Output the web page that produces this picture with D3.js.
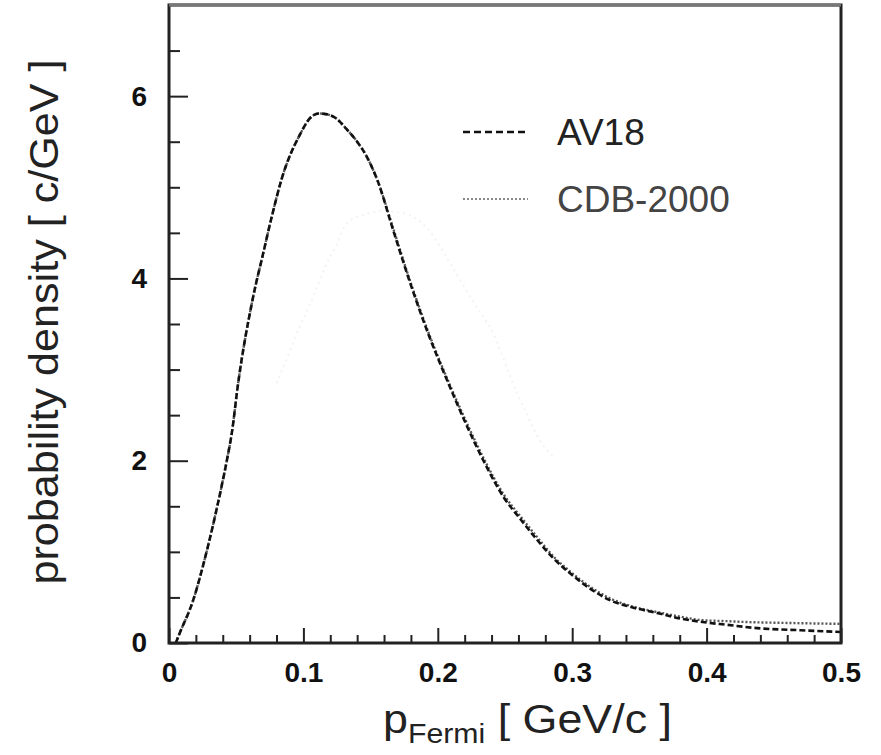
<!DOCTYPE html>
<html>
<head>
<meta charset="utf-8">
<script src="https://cdn.jsdelivr.net/npm/d3@7"></script>
<style>
  html, body { margin: 0; padding: 0; background: #fff; }
  svg { display: block; font-family: "Liberation Sans", Arial, Helvetica, sans-serif; }
</style>
</head>
<body>
<svg id="chart" width="881" height="755"></svg>
<script>
// Fermi momentum distributions (p in GeV/c, density in c/GeV)
const av18P = [0.005, 0.008, 0.018, 0.025, 0.033, 0.039, 0.043, 0.047, 0.051, 0.0625, 0.070, 0.077, 0.084,
  0.0975, 0.105, 0.1115, 0.1176, 0.124, 0.132, 0.140, 0.147, 0.155, 0.167, 0.179, 0.194, 0.207, 0.222, 0.234,
  0.249, 0.262, 0.274, 0.286, 0.298, 0.313, 0.328, 0.345, 0.363, 0.380, 0.397, 0.415, 0.44, 0.47, 0.50];
const av18D = [0.0, 0.11, 0.47, 0.83, 1.31, 1.71, 2.0, 2.33, 2.80, 3.79, 4.27, 4.71, 5.10,
  5.58, 5.76, 5.81, 5.80, 5.76, 5.64, 5.50, 5.34, 5.08, 4.52, 3.97, 3.35, 2.88, 2.37, 2.0,
  1.60, 1.35, 1.13, 0.93, 0.77, 0.60, 0.47, 0.39, 0.33, 0.27, 0.23, 0.20, 0.16, 0.14, 0.12];

const cdbP = [0.005, 0.008, 0.018, 0.025, 0.033, 0.039, 0.043, 0.047, 0.051, 0.0625, 0.070, 0.077, 0.084,
  0.0975, 0.105, 0.1115, 0.1176, 0.124, 0.132, 0.140, 0.147, 0.155, 0.167, 0.179, 0.194, 0.207, 0.222, 0.234,
  0.249, 0.262, 0.274, 0.286, 0.298, 0.313, 0.328, 0.345, 0.363, 0.380, 0.397, 0.415, 0.43, 0.46, 0.50];
const cdbD = [0.0, 0.11, 0.47, 0.83, 1.31, 1.71, 2.0, 2.33, 2.80, 3.79, 4.27, 4.71, 5.10,
  5.58, 5.76, 5.81, 5.80, 5.76, 5.64, 5.50, 5.34, 5.08, 4.54, 3.99, 3.37, 2.90, 2.40, 2.03,
  1.63, 1.38, 1.16, 0.95, 0.79, 0.62, 0.49, 0.40, 0.34, 0.29, 0.25, 0.24, 0.23, 0.22, 0.21];

// faint broad curve behind the main ones
const faintP = [0.080, 0.088, 0.097, 0.107, 0.116, 0.125, 0.132, 0.145, 0.161, 0.178, 0.192,
  0.211, 0.229, 0.239, 0.259, 0.266, 0.276, 0.286];
const faintD = [2.85, 3.13, 3.46, 3.79, 4.12, 4.38, 4.60, 4.70, 4.74, 4.70, 4.55,
  4.12, 3.68, 3.46, 2.74, 2.52, 2.22, 2.04];

const xTicks = [0, 0.1, 0.2, 0.3, 0.4, 0.5];
const xTickLabels = ["0", "0.1", "0.2", "0.3", "0.4", "0.5"];
const yTicks = [0, 2, 4, 6];
const yTickLabels = ["0", "2", "4", "6"];
const legendNames = ["AV18", "CDB-2000"];

const svg = d3.select("#chart");
const plotLeft = 169, plotRight = 841, plotTop = 5, plotBottom = 643;

const x = d3.scaleLinear().domain([0, 0.5]).range([plotLeft, plotRight]);
const y = d3.scaleLinear().domain([0, 7]).range([plotBottom, plotTop]);

// curves
const line = d3.line().x(d => x(d[0])).y(d => y(d[1])).curve(d3.curveMonotoneX);

svg.append("path")
  .datum(d3.zip(faintP, faintD))
  .attr("d", line)
  .attr("fill", "none")
  .attr("stroke", "#f3f3f3")
  .attr("stroke-width", 2)
  .attr("stroke-dasharray", "2,4");

svg.append("path")
  .datum(d3.zip(cdbP, cdbD))
  .attr("d", line)
  .attr("fill", "none")
  .attr("stroke", "#555")
  .attr("stroke-width", 2.4)
  .attr("stroke-dasharray", "2,2");

svg.append("path")
  .datum(d3.zip(av18P, av18D))
  .attr("d", line)
  .attr("fill", "none")
  .attr("stroke", "#111")
  .attr("stroke-width", 2.6)
  .attr("stroke-dasharray", "6,3");

// frame
svg.append("rect")
  .attr("x", plotLeft).attr("y", plotTop)
  .attr("width", plotRight - plotLeft).attr("height", plotBottom - plotTop)
  .attr("fill", "none").attr("stroke", "#222").attr("stroke-width", 3);
svg.append("line")
  .attr("x1", plotLeft).attr("x2", plotRight).attr("y1", plotTop).attr("y2", plotTop)
  .attr("stroke", "#777").attr("stroke-width", 3);

// x axis: minor ticks every 0.02, major every 0.1, all pointing inward
const xMinor = d3.range(0, 0.5001, 0.02).filter(v => Math.abs(v * 10 - Math.round(v * 10)) > 1e-6);
svg.append("g")
  .attr("transform", `translate(0,${plotBottom})`)
  .call(d3.axisBottom(x).tickValues(xMinor).tickSizeInner(-8).tickSizeOuter(0).tickFormat(""))
  .call(g => g.select(".domain").remove())
  .call(g => g.selectAll("line").attr("stroke", "#222").attr("stroke-width", 2));

const xAxis = svg.append("g")
  .attr("transform", `translate(0,${plotBottom})`)
  .call(d3.axisBottom(x).tickValues(xTicks).tickSizeInner(-15).tickSizeOuter(0).tickPadding(19)
    .tickFormat((d, i) => xTickLabels[i]));
xAxis.select(".domain").remove();
xAxis.selectAll("line").attr("stroke", "#222").attr("stroke-width", 2);
xAxis.selectAll("text")
  .attr("font-size", 28).attr("font-weight", "bold").attr("fill", "#111")
  .attr("font-family", "Liberation Sans, Arial, sans-serif");

// y axis: minor ticks every 0.5, major every 2
const yMinor = d3.range(0.5, 7, 0.5).filter(v => v % 2 !== 0);
svg.append("g")
  .attr("transform", `translate(${plotLeft},0)`)
  .call(d3.axisLeft(y).tickValues(yMinor).tickSizeInner(-11).tickSizeOuter(0).tickFormat(""))
  .call(g => g.select(".domain").remove())
  .call(g => g.selectAll("line").attr("stroke", "#222").attr("stroke-width", 2));

const yAxis = svg.append("g")
  .attr("transform", `translate(${plotLeft},0)`)
  .call(d3.axisLeft(y).tickValues(yTicks).tickSizeInner(-19).tickSizeOuter(0).tickPadding(22)
    .tickFormat((d, i) => yTickLabels[i]));
yAxis.select(".domain").remove();
yAxis.selectAll("line").attr("stroke", "#222").attr("stroke-width", 2);
yAxis.selectAll("text")
  .attr("font-size", 28).attr("font-weight", "bold").attr("fill", "#111")
  .attr("font-family", "Liberation Sans, Arial, sans-serif");

// axis titles (glyphs stretched to the printed width)
const xTitle = svg.append("text")
  .attr("x", 383).attr("y", 733)
  .attr("font-size", 40).attr("fill", "#222")
  .attr("textLength", 289).attr("lengthAdjust", "spacingAndGlyphs");
xTitle.append("tspan").text("p");
xTitle.append("tspan").attr("font-size", 27).attr("dy", 10).text("Fermi");
xTitle.append("tspan").attr("dy", -10).text(" [ GeV/c ]");

svg.append("text")
  .attr("transform", "translate(58,322) rotate(-90)")
  .attr("text-anchor", "middle")
  .attr("font-size", 41).attr("fill", "#222")
  .attr("textLength", 525).attr("lengthAdjust", "spacingAndGlyphs")
  .text("probability density [ c/GeV ]");

// legend
const legendY = [132, 199];
const legendStyles = [
  { stroke: "#111", dash: "7,4", width: 2.4, text: "#222" },
  { stroke: "#888", dash: "2,2", width: 2, text: "#444" }
];
legendNames.forEach((name, i) => {
  svg.append("line")
    .attr("x1", 463).attr("x2", 528)
    .attr("y1", legendY[i]).attr("y2", legendY[i])
    .attr("stroke", legendStyles[i].stroke)
    .attr("stroke-width", legendStyles[i].width)
    .attr("stroke-dasharray", legendStyles[i].dash);
  svg.append("text")
    .attr("x", 557).attr("y", legendY[i] + 13)
    .attr("font-size", 37).attr("fill", legendStyles[i].text)
    .text(name);
});
</script>
</body>
</html>
